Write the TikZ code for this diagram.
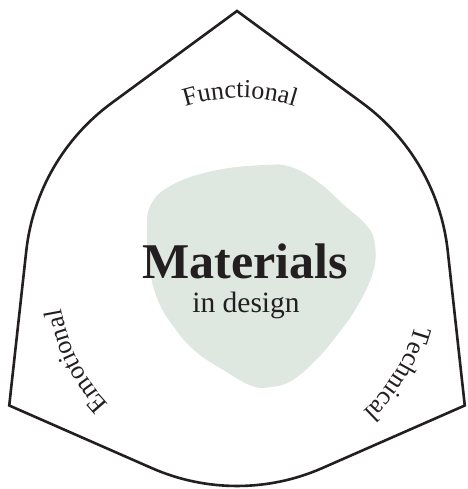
\documentclass[tikz,border=0pt]{standalone}
\usepackage{fontspec}
\setmainfont{Liberation Serif}
\usetikzlibrary{calc,decorations.text}
\definecolor{ink}{RGB}{35,31,32}
\definecolor{sage}{RGB}{223,231,225}
\tikzset{
  outline/.style={draw=ink, line width=2.6pt, line join=miter},
  blob/.style={fill=sage, draw=none},
  curvelabel/.style={decorate, decoration={text along path, text align=center, text color=ink}},
  titletext/.style={font=\fontsize{50}{50}\selectfont\bfseries, text=ink, inner sep=0pt, anchor=base},
  subtext/.style={font=\fontsize{29.5}{30}\selectfont, text=ink, inner sep=0pt, anchor=base}
}
\begin{document}
\begin{tikzpicture}[x=1pt,y=1pt]
\useasboundingbox (0,0) rectangle (467,489);
\fill[white] (0,0) rectangle (467,489);
\coordinate (C) at (237,215);
\coordinate (L) at (240,210);
% central blob
\fill[blob] plot[smooth cycle, tension=0.7] coordinates {
  (150.7,284) (172,304) (215,318.5) (265,324) (291,322) (318,307) (344,284)
  (367,263) (375,244) (373,217) (358,184) (338,155) (315,128) (291,108)
  (271,102) (252,103) (225,118) (195,138) (172,164.5) (157,191) (149,224) (147,257)};
% outer shape
\draw[outline] ($(C)+(90:263pt)$) -- ($(C)+(126.3:212pt)$)
  arc[start angle=126.3, end angle=173.7, radius=212pt]
  -- ($(C)+(210:263pt)$) -- ($(C)+(246.3:212pt)$)
  arc[start angle=246.3, end angle=293.7, radius=212pt]
  -- ($(C)+(330:263pt)$) -- ($(C)+(366.3:212pt)$)
  arc[start angle=6.3, end angle=53.7, radius=212pt]
  -- cycle;
% curved labels
\path[curvelabel, decoration={text={|\fontsize{26}{26}\selectfont|Functional}}]
  ($(L)+(150:181pt)$) arc[start angle=150, end angle=30, radius=181pt];
\path[curvelabel, decoration={text={|\fontsize{26}{26}\selectfont|Technical}}]
  ($(L)+(29:181pt)$) arc[start angle=29, end angle=-91, radius=181pt];
\path[curvelabel, decoration={text={|\fontsize{26}{26}\selectfont|Emotional}}]
  ($(L)+(266.5:181pt)$) arc[start angle=266.5, end angle=146.5, radius=181pt];
% central text
\node[titletext] (title) at (245,210) {Materials};
\node[subtext] (sub) at (246,176) {in design};
\end{tikzpicture}
\end{document}
